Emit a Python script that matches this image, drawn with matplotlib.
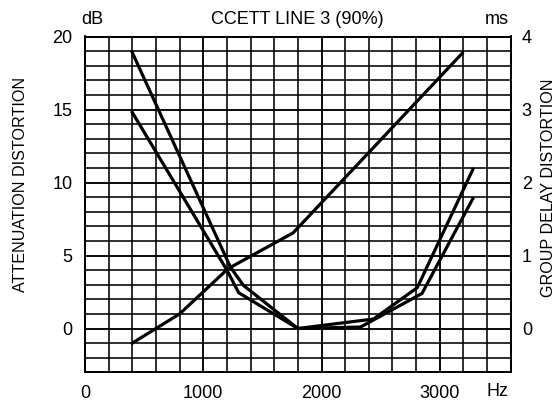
import matplotlib
matplotlib.use("Agg")
import matplotlib.pyplot as plt
import numpy as np

plt.rcParams['font.family'] = ['Liberation Sans', 'DejaVu Sans']

# Attenuation distortion curves (Hz, dB)
att_a_hz = [400, 1230, 1340, 1800, 2440, 2810, 3280]
att_a_db = [18.9, 4.2, 2.95, 0.0, 0.65, 2.8, 10.9]
att_b_hz = [400, 1200, 1300, 1800, 2330, 2850, 3280]
att_b_db = [14.8, 4.0, 2.45, 0.0, 0.1, 2.4, 8.9]

# Group delay distortion curve (Hz, ms)
gd_hz = [400, 800, 1210, 1760, 3190]
gd_ms = [-0.2, 0.2, 0.82, 1.31, 3.77]

x_ticks = [0, 1000, 2000, 3000]
x_labels = ["0", "1000", "2000", "3000"]
y_ticks = [0, 5, 10, 15, 20]
y2_ticks = [0, 1, 2, 3, 4]

fig = plt.figure(figsize=(5.6, 4.04), dpi=100)
ax = fig.add_axes([85/560, 1-372.3/404, (510.7-85)/560, (372.3-36.5)/404])

ax.set_xlim(0, 3600)
ax.set_ylim(-3, 20)
ax.set_xticks(x_ticks)
ax.set_xticklabels(x_labels)
ax.set_xticks(np.arange(0, 3601, 200), minor=True)
ax.set_yticks(y_ticks)
ax.set_yticks(np.arange(-3, 21, 1), minor=True)
ax.grid(True, which='minor', color='black', linewidth=1.15)
ax.grid(True, which='major', color='black', linewidth=1.35)
ax.set_axisbelow(True)
for s in ax.spines.values():
    s.set_linewidth(1.35)
ax.tick_params(which='both', length=0, labelsize=13)
ax.tick_params(axis='y', pad=9)
ax.tick_params(axis='x', pad=9)

ax.plot(att_a_hz, att_a_db, color='black', linewidth=2.3, solid_joinstyle='miter')
ax.plot(att_b_hz, att_b_db, color='black', linewidth=2.3, solid_joinstyle='miter')

ax2 = ax.twinx()
ax2.set_ylim(-0.6, 4)
ax2.set_yticks(y2_ticks)
ax2.tick_params(which='both', length=0, labelsize=13, pad=8)
for s in ax2.spines.values():
    s.set_linewidth(1.35)
ax2.plot(gd_hz, gd_ms, color='black', linewidth=2.3)

ax.set_ylabel("ATTENUATION DISTORTION", fontsize=11.6)
ax2.set_ylabel("GROUP DELAY DISTORTION", fontsize=11.6)
ax.yaxis.set_label_coords(-0.134, 0.56)
ax2.yaxis.set_label_coords(1.072, 0.55)

fig.text(92/560, 1-19/404, "dB", ha='center', va='center', fontsize=13)
fig.text(297/560, 1-19/404, "CCETT LINE 3 (90%)", ha='center', va='center', fontsize=13)
fig.text(497/560, 1-19/404, "ms", ha='center', va='center', fontsize=13)
fig.text(498/560, 1-392/404, "Hz", ha='center', va='center', fontsize=13)

fig.savefig("out.png", dpi=100)
